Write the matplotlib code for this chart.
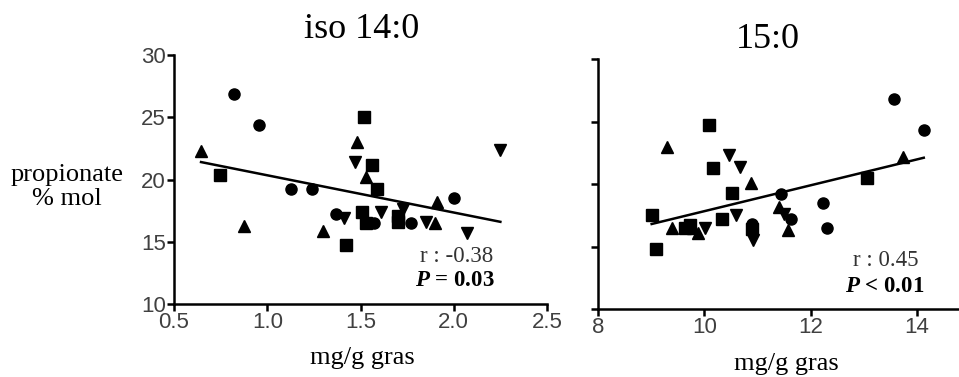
import matplotlib
matplotlib.use('Agg')
import matplotlib.pyplot as plt
import numpy as np

plt.rcParams['mathtext.fontset'] = 'custom'
plt.rcParams['mathtext.rm'] = 'Liberation Serif'
plt.rcParams['mathtext.it'] = 'Liberation Serif:italic'
plt.rcParams['mathtext.bf'] = 'Liberation Serif:bold'
plt.rcParams['mathtext.bfit'] = 'Liberation Serif:italic:bold'

# iso 14:0 panel (x: mg/g gras, y: propionate % mol)
iso_circ_x = [0.82, 0.957, 1.13, 1.24, 1.37, 1.57, 1.77, 2.0]
iso_circ_y = [26.9, 24.4, 19.2, 19.2, 17.2, 16.5, 16.5, 18.5]
iso_sq_x = [0.747, 1.52, 1.56, 1.59, 1.51, 1.70, 1.70, 1.53, 1.42]
iso_sq_y = [20.4, 25.0, 21.2, 19.2, 17.4, 17.1, 16.6, 16.5, 14.7]
iso_up_x = [0.645, 0.876, 1.30, 1.48, 1.53, 1.91, 1.90]
iso_up_y = [22.3, 16.3, 15.9, 23.0, 20.2, 18.2, 16.5]
iso_dn_x = [1.47, 1.41, 1.61, 1.73, 1.85, 2.07, 2.25]
iso_dn_y = [21.4, 16.9, 17.4, 17.6, 16.6, 15.7, 22.4]
iso_fit_x = [0.645, 2.25]
iso_fit_y = [21.4, 16.6]

# 15:0 panel
c15_circ_x = [13.57, 14.13, 11.45, 12.23, 11.64, 12.30, 10.90]
c15_circ_y = [26.8, 24.3, 19.2, 18.5, 17.2, 16.5, 16.8]
c15_sq_x = [10.09, 10.17, 10.53, 9.01, 10.34, 9.64, 9.73, 9.10, 13.06, 10.90]
c15_sq_y = [24.7, 21.3, 19.3, 17.5, 17.2, 16.5, 16.7, 14.8, 20.45, 16.4]
c15_up_x = [9.30, 10.87, 11.41, 9.40, 9.79, 9.89, 11.58, 13.73]
c15_up_y = [23.0, 20.1, 18.2, 16.5, 16.5, 16.1, 16.3, 22.2]
c15_dn_x = [10.47, 10.68, 10.59, 10.01, 10.92, 11.5]
c15_dn_y = [22.3, 21.4, 17.5, 16.5, 15.5, 17.6]
c15_fit_x = [9.01, 14.13]
c15_fit_y = [16.8, 22.1]

W, H = 959, 377
fig = plt.figure(figsize=(W / 100, H / 100), dpi=100)

serif = 'Liberation Serif'
sans = 'Liberation Sans'


def setup_axes(ax, xlim, xticks, xlabels, ylabels=True):
    ax.set_xlim(*xlim)
    ax.set_ylim(10, 30)
    ax.set_xticks(xticks)
    ax.set_xticklabels(xlabels, fontfamily=sans, fontsize=16, color='#404040')
    ax.set_yticks([10, 15, 20, 25, 30])
    if ylabels:
        ax.set_yticklabels(['10', '15', '20', '25', '30'], fontfamily=sans,
                           fontsize=16, color='#404040')
    else:
        ax.set_yticklabels([])
    for s in ['top', 'right']:
        ax.spines[s].set_visible(False)
    for s in ['left', 'bottom']:
        ax.spines[s].set_linewidth(1.8)
    ax.tick_params(direction='out', length=5, width=1.8, pad=1)


def draw(ax, cx, cy, sx, sy, ux, uy, dx, dy, fx, fy):
    ms = 8
    ax.plot(fx, fy, color='black', lw=1.8, zorder=2)
    ax.plot(cx, cy, 'o', color='black', ms=ms, zorder=3, clip_on=False)
    ax.plot(sx, sy, 's', color='black', ms=ms, zorder=3, clip_on=False)
    ax.plot(ux, uy, '^', color='black', ms=ms, zorder=3, clip_on=False)
    ax.plot(dx, dy, 'v', color='black', ms=ms, zorder=3, clip_on=False)


# left panel
ax1 = fig.add_axes([174 / W, 1 - 304 / H, (547 - 174) / W, (304 - 55) / H])
setup_axes(ax1, (0.5, 2.5), [0.5, 1.0, 1.5, 2.0, 2.5],
           ['0.5', '1.0', '1.5', '2.0', '2.5'])
draw(ax1, iso_circ_x, iso_circ_y, iso_sq_x, iso_sq_y, iso_up_x, iso_up_y,
     iso_dn_x, iso_dn_y, iso_fit_x, iso_fit_y)

# right panel
ax2 = fig.add_axes([598 / W, 1 - 309 / H, (970 - 598) / W, (309 - 59) / H])
setup_axes(ax2, (8, 15), [8, 10, 12, 14], ['8', '10', '12', '14'],
           ylabels=False)
draw(ax2, c15_circ_x, c15_circ_y, c15_sq_x, c15_sq_y, c15_up_x, c15_up_y,
     c15_dn_x, c15_dn_y, c15_fit_x, c15_fit_y)

# titles and labels
fig.text(362 / W, 1 - 30 / H, 'iso 14:0', ha='center', va='center',
         fontfamily=serif, fontsize=26)
fig.text(768 / W, 1 - 40 / H, '15:0', ha='center', va='center',
         fontfamily=serif, fontsize=26)
fig.text(67 / W, 1 - 187 / H, 'propionate\n% mol', ha='center', va='center',
         fontfamily=serif, fontsize=19, linespacing=1.1)
fig.text(362 / W, 1 - 358 / H, 'mg/g gras', ha='center', va='center',
         fontfamily=serif, fontsize=19)
fig.text(786 / W, 1 - 364 / H, 'mg/g gras', ha='center', va='center',
         fontfamily=serif, fontsize=19)

# stats
fig.text(457 / W, 1 - 257 / H, 'r : -0.38', ha='center', va='center',
         fontfamily=serif, fontsize=16.5, color='#333333')
fig.text(455 / W, 1 - 280 / H, r'$\mathbfit{P}$ = 0.03', ha='center', va='center',
         fontfamily=serif, fontsize=16.5, fontweight='bold')
fig.text(886 / W, 1 - 261 / H, 'r : 0.45', ha='center', va='center',
         fontfamily=serif, fontsize=16.5, color='#333333')
fig.text(885 / W, 1 - 286 / H, r'$\mathbfit{P}$ < 0.01', ha='center', va='center',
         fontfamily=serif, fontsize=16.5, fontweight='bold')

fig.savefig('out.png', dpi=100)
